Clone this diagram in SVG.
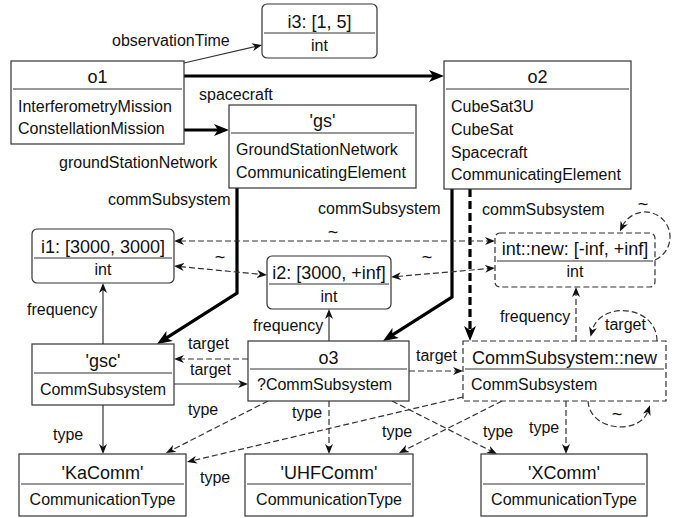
<svg xmlns="http://www.w3.org/2000/svg" width="681" height="518" viewBox="0 0 681 518">
<style>
.box{fill:#fff;stroke:#333;stroke-width:1.2}
.dbox{fill:#fff;stroke:#333;stroke-width:1.2;stroke-dasharray:6 3}
.sep{stroke:#333;stroke-width:1}
text{font-family:"Liberation Sans",Arial,sans-serif;fill:#111}
.t{font-size:18px;text-anchor:middle}
.b{font-size:16px}
.c{text-anchor:middle}
.l{font-size:16px}
.tl{font-size:18px;text-anchor:middle}
.e{fill:none;stroke:#333;stroke-width:1.2}
.ed{fill:none;stroke:#333;stroke-width:1.2;stroke-dasharray:6 3}
.th{fill:none;stroke:#000;stroke-width:3.2}
.thd{fill:none;stroke:#000;stroke-width:3.2;stroke-dasharray:8 4}
</style>
<defs>
<marker id="a" viewBox="0 0 10 8" refX="4" refY="4" markerWidth="10" markerHeight="8" markerUnits="userSpaceOnUse" orient="auto-start-reverse"><path d="M0,0 L10,4 L0,8 L3,4 z" fill="#111"/></marker>
<marker id="at" viewBox="0 0 15 12" refX="6" refY="6" markerWidth="15" markerHeight="12" markerUnits="userSpaceOnUse" orient="auto"><path d="M0,0 L15,6 L0,12 L4,6 z" fill="#000"/></marker>
</defs>
<g id="connectors">
<path class="e" d="M184,63 L256.2,46.3" marker-end="url(#a)"/>
<path class="th" d="M184,76 L435,76" marker-end="url(#at)"/>
<path class="th" d="M184,130 L220,130" marker-end="url(#at)"/>
<path class="th" d="M237,188 L237,293 L164.6,339.2" marker-end="url(#at)"/>
<path class="th" d="M452,189 L452,297 L390.6,336.2" marker-end="url(#at)"/>
<path class="thd" d="M470,189 L470,332" marker-end="url(#at)"/>
<path class="ed" d="M180,241 L489,241" marker-start="url(#a)" marker-end="url(#a)"/>
<path class="ed" d="M180,266.6 L261,274.4" marker-start="url(#a)" marker-end="url(#a)"/>
<path class="ed" d="M397,276.5 L489,268.5" marker-start="url(#a)" marker-end="url(#a)"/>
<path class="ed" d="M655.2,259.8 A25,25 0 1 0 622.5,226.1" marker-end="url(#a)"/>
<path class="e" d="M103,344 L103,289" marker-end="url(#a)"/>
<path class="e" d="M329,341 L329,315" marker-end="url(#a)"/>
<path class="ed" d="M248,359 L180,359" marker-end="url(#a)"/>
<path class="e" d="M174,384 L242,384" marker-end="url(#a)"/>
<path class="ed" d="M409,371 L457,371" marker-end="url(#a)"/>
<path class="ed" d="M576,341 L576,293" marker-end="url(#a)"/>
<path class="ed" d="M657,341 C657,305 600,300 592,331" marker-end="url(#a)"/>
<path class="ed" d="M588,401 C590,432 640,435 648,411" marker-end="url(#a)"/>
<path class="e" d="M103,405 L103,448" marker-end="url(#a)"/>
<path class="ed" d="M268,401 L171.3,450.3" marker-end="url(#a)"/>
<path class="ed" d="M329,401 L329,448" marker-end="url(#a)"/>
<path class="ed" d="M392,401 L491.6,451.3" marker-end="url(#a)"/>
<path class="ed" d="M463,397 L192.8,460.6" marker-end="url(#a)"/>
<path class="ed" d="M502,401 L404.3,450.3" marker-end="url(#a)"/>
<path class="ed" d="M566,401 L566,448" marker-end="url(#a)"/>
<text class="l" x="112" y="46">observationTime</text>
<text class="l" x="199" y="100">spacecraft</text>
<text class="l" x="59" y="168">groundStationNetwork</text>
<text class="l" x="108" y="205">commSubsystem</text>
<text class="l" x="318" y="214">commSubsystem</text>
<text class="l" x="482" y="215">commSubsystem</text>
<text class="tl" x="333" y="238">~</text>
<text class="tl" x="220" y="263">~</text>
<text class="tl" x="427" y="263">~</text>
<text class="tl" x="643" y="210">~</text>
<text class="tl" x="617" y="420">~</text>
<text class="l" x="27" y="315">frequency</text>
<text class="l" x="253" y="331">frequency</text>
<text class="l" x="500" y="322">frequency</text>
<text class="l" x="188" y="349">target</text>
<text class="l" x="190" y="375">target</text>
<text class="l" x="416" y="361">target</text>
<text class="l" x="605" y="330">target</text>
<text class="l" x="53" y="440">type</text>
<text class="l" x="188" y="415">type</text>
<text class="l" x="292" y="418">type</text>
<text class="l" x="483" y="437">type</text>
<text class="l" x="200" y="483">type</text>
<text class="l" x="382" y="437">type</text>
<text class="l" x="529" y="433">type</text>
</g>
<g id="i3">
<rect class="box" x="262" y="4" width="115" height="54" rx="5"/>
<line class="sep" x1="264" y1="33" x2="375" y2="33"/>
<text class="t" x="319.5" y="28">i3: [1, 5]</text>
<text class="b c" x="319.5" y="51">int</text>
</g>
<g id="o1">
<rect class="box" x="11" y="61" width="173" height="83"/>
<line class="sep" x1="13" y1="89" x2="182" y2="89"/>
<text class="t" x="97.5" y="83">o1</text>
<text class="b" x="18" y="112">InterferometryMission</text>
<text class="b" x="18" y="134">ConstellationMission</text>
</g>
<g id="o2">
<rect class="box" x="444" y="61" width="187" height="128"/>
<line class="sep" x1="446" y1="89" x2="629" y2="89"/>
<text class="t" x="537.5" y="83">o2</text>
<text class="b" x="451" y="112">CubeSat3U</text>
<text class="b" x="451" y="135">CubeSat</text>
<text class="b" x="451" y="158">Spacecraft</text>
<text class="b" x="451" y="180">CommunicatingElement</text>
</g>
<g id="gs">
<rect class="box" x="229" y="105" width="187" height="83"/>
<line class="sep" x1="231" y1="133" x2="414" y2="133"/>
<text class="t" x="322.5" y="127">'gs'</text>
<text class="b" x="236" y="155">GroundStationNetwork</text>
<text class="b" x="236" y="178">CommunicatingElement</text>
</g>
<g id="i1">
<rect class="box" x="32" y="229" width="142" height="54" rx="5"/>
<line class="sep" x1="34" y1="258" x2="172" y2="258"/>
<text class="t" x="103" y="253">i1: [3000, 3000]</text>
<text class="b c" x="103" y="275">int</text>
</g>
<g id="i2">
<rect class="box" x="267" y="256" width="124" height="53" rx="5"/>
<line class="sep" x1="269" y1="284" x2="389" y2="284"/>
<text class="t" x="329" y="279">i2: [3000, +inf]</text>
<text class="b c" x="329" y="302">int</text>
</g>
<g id="int_new">
<rect class="dbox" x="495" y="233" width="160" height="54" rx="5"/>
<line class="sep" x1="497" y1="261" x2="653" y2="261"/>
<text class="t" x="575" y="255">int::new: [-inf, +inf]</text>
<text class="b c" x="575" y="277">int</text>
</g>
<g id="gsc">
<rect class="box" x="32" y="344" width="142" height="61"/>
<line class="sep" x1="34" y1="373" x2="172" y2="373"/>
<text class="t" x="103" y="367">'gsc'</text>
<text class="b c" x="103" y="395">CommSubsystem</text>
</g>
<g id="o3">
<rect class="box" x="248" y="341" width="161" height="60"/>
<line class="sep" x1="250" y1="369" x2="407" y2="369"/>
<text class="t" x="328.5" y="364">o3</text>
<text class="b" x="257" y="390">?CommSubsystem</text>
</g>
<g id="CommSubsystem_new">
<rect class="dbox" x="463" y="341" width="203" height="60"/>
<line class="sep" x1="465" y1="369" x2="664" y2="369"/>
<text class="t" x="564.5" y="364">CommSubsystem::new</text>
<text class="b" x="471" y="390">CommSubsystem</text>
</g>
<g id="KaComm">
<rect class="box" x="19" y="454" width="167" height="62"/>
<line class="sep" x1="21" y1="484" x2="184" y2="484"/>
<text class="t" x="102.5" y="479">'KaComm'</text>
<text class="b c" x="102.5" y="505">CommunicationType</text>
</g>
<g id="UHFComm">
<rect class="box" x="245" y="454" width="168" height="62"/>
<line class="sep" x1="247" y1="484" x2="411" y2="484"/>
<text class="t" x="329" y="479">'UHFComm'</text>
<text class="b c" x="329" y="505">CommunicationType</text>
</g>
<g id="XComm">
<rect class="box" x="481" y="454" width="166" height="62"/>
<line class="sep" x1="483" y1="484" x2="645" y2="484"/>
<text class="t" x="564" y="479">'XComm'</text>
<text class="b c" x="564" y="505">CommunicationType</text>
</g>
</svg>
